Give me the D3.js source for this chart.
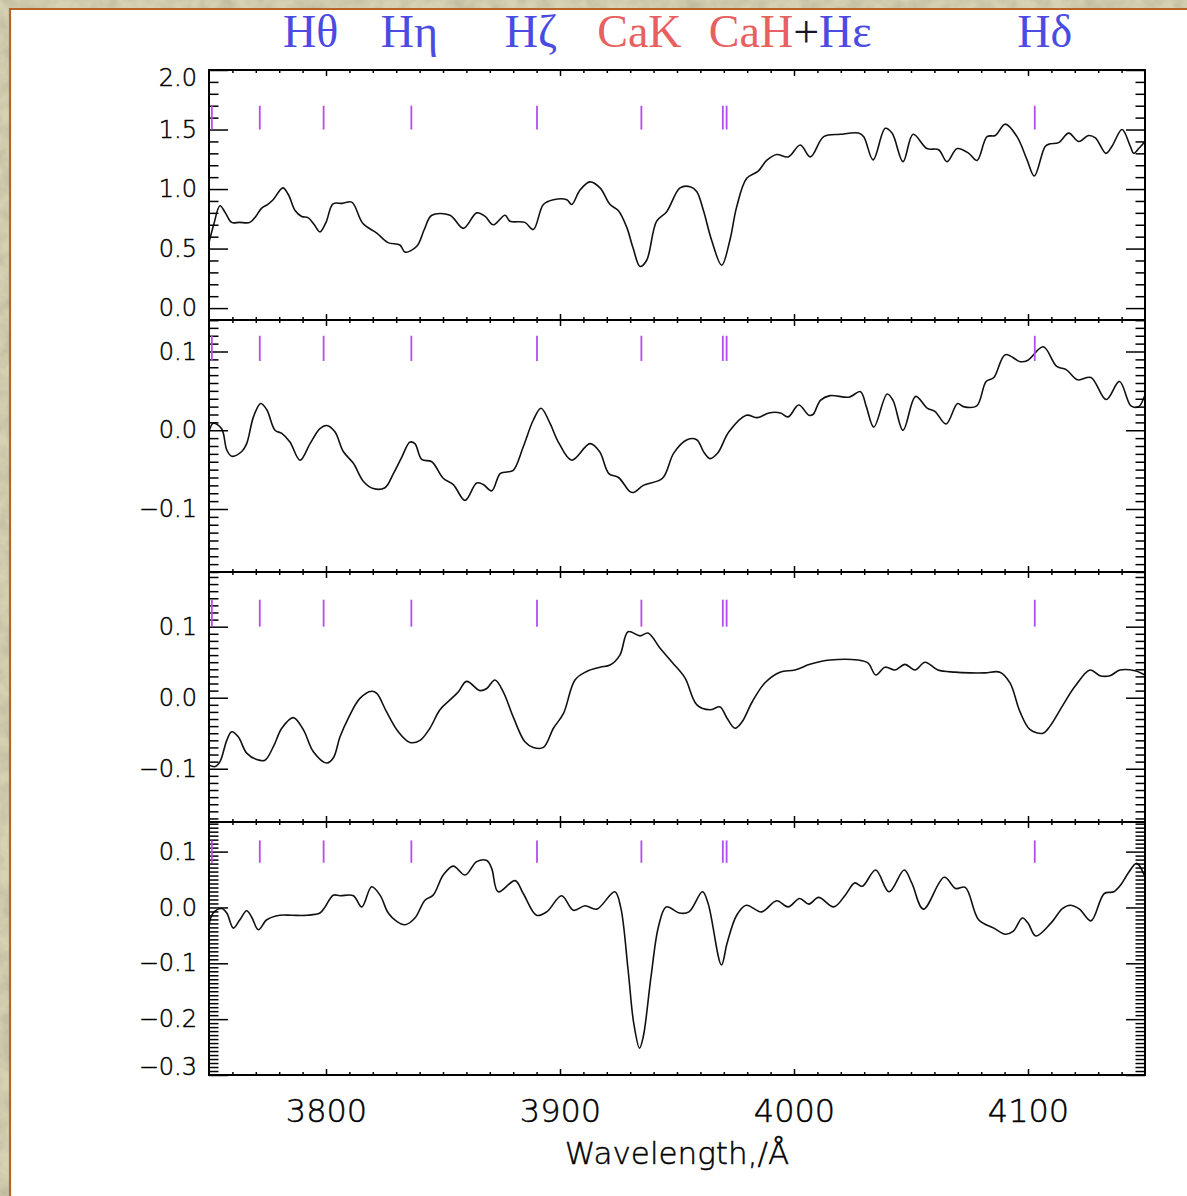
<!DOCTYPE html>
<html>
<head>
<meta charset="utf-8">
<script src="https://cdn.jsdelivr.net/npm/d3@7"></script>
<style>
  html, body { margin: 0; padding: 0; background: #ffffff; }
  svg { display: block; }
</style>
</head>
<body>
<svg id="chart" width="1187" height="1196"></svg>
<script>
// ---------------------------------------------------------------
// Spectra: wavelength (Å) and value for each of the four panels
// ---------------------------------------------------------------
const wave1 = [3750,3752,3754.7,3757,3759.7,3763,3767.5,3770,3772.5,3775,3777.4,3781.6,3784,3786.8,3789.6,3792.3,3795,3797.4,3800,3803,3807,3811,3815.8,3821.7,3826.5,3831.6,3833.8,3838.8,3842,3845.2,3853,3858.7,3864.4,3868,3871.5,3876.5,3878.6,3885,3888.6,3892.9,3897.2,3902.9,3905,3908.5,3912.8,3917.1,3921.4,3924.9,3928.5,3931.3,3934.2,3937,3941.3,3945.6,3951.3,3955.6,3958.4,3961.3,3964.8,3969.1,3972.6,3975.5,3979.8,3984.7,3988.3,3992.6,3997.5,4002.7,4007,4012.7,4019.8,4027.6,4029.8,4033.8,4039,4041.9,4046.6,4050.9,4056.8,4061.8,4065.4,4069.7,4074.7,4078.2,4082.5,4086,4090.3,4095.3,4099.6,4102.7,4107.4,4109.5,4113.1,4117.4,4121.7,4125.9,4128.8,4133.3,4135.9,4140.2,4143.7,4145.2,4147.3,4150];
const flux1 = [0.55,0.70,0.86,0.80,0.72,0.72,0.72,0.77,0.84,0.87,0.91,1.01,0.95,0.82,0.77,0.76,0.70,0.64,0.72,0.875,0.88,0.89,0.71,0.63,0.55,0.53,0.47,0.52,0.66,0.78,0.78,0.67,0.80,0.77,0.70,0.78,0.73,0.72,0.66,0.87,0.91,0.91,0.87,0.99,1.06,1.01,0.87,0.82,0.68,0.50,0.35,0.40,0.73,0.81,1.01,1.02,0.98,0.82,0.57,0.36,0.57,0.85,1.09,1.15,1.24,1.29,1.27,1.37,1.27,1.44,1.46,1.47,1.44,1.245,1.51,1.47,1.23,1.46,1.34,1.33,1.23,1.34,1.30,1.24,1.44,1.45,1.545,1.44,1.245,1.11,1.36,1.38,1.39,1.47,1.40,1.45,1.43,1.30,1.36,1.50,1.36,1.30,1.34,1.40];

const wave2 = [3750,3751.8,3755.4,3757.6,3759.7,3764,3766.1,3769,3772.1,3774.7,3778.2,3781.1,3784.6,3788.9,3793.2,3797.4,3800.3,3803.8,3807.4,3811.7,3816,3820.2,3825.2,3828.8,3832.4,3835.9,3838,3840.9,3845.2,3850.1,3854.4,3859.4,3864.4,3867.2,3870.8,3874.4,3877.2,3880,3884.3,3888.6,3891.9,3895.7,3899.3,3905,3912.8,3916.9,3920.9,3925,3929.9,3931.5,3935.6,3943.8,3948.6,3954.3,3958.4,3961.7,3964.1,3967.4,3972.2,3979.6,3984.4,3989.3,3994.2,3997.5,4002,4006.4,4008.1,4011.3,4015.4,4023.5,4028.4,4030.9,4034.1,4039.8,4042.3,4046.6,4052,4056.9,4060.2,4065,4069.9,4072.4,4078.1,4082.1,4085.4,4090.3,4096.8,4100,4106.5,4112.3,4116.3,4121.2,4126.9,4133.4,4139.1,4144,4147.3,4149.7];
const flux2 = [-0.002,0.009,0.002,-0.025,-0.033,-0.027,-0.017,0.017,0.034,0.026,0.000,-0.004,-0.015,-0.038,-0.017,0.002,0.006,-0.002,-0.027,-0.042,-0.065,-0.074,-0.073,-0.055,-0.034,-0.015,-0.017,-0.037,-0.040,-0.061,-0.069,-0.089,-0.067,-0.069,-0.077,-0.055,-0.053,-0.051,-0.021,0.013,0.028,0.009,-0.015,-0.038,-0.017,-0.027,-0.055,-0.060,-0.078,-0.079,-0.070,-0.061,-0.029,-0.012,-0.012,-0.029,-0.036,-0.029,-0.002,0.019,0.016,0.022,0.022,0.017,0.032,0.019,0.020,0.038,0.044,0.042,0.049,0.030,0.004,0.046,0.038,0.000,0.043,0.028,0.024,0.008,0.034,0.030,0.031,0.062,0.067,0.096,0.087,0.089,0.106,0.081,0.077,0.064,0.067,0.039,0.062,0.031,0.030,0.043];

const wave3 = [3750,3752.6,3754.7,3757.6,3759.7,3762.5,3766.1,3770.4,3773.9,3777.5,3781.1,3786,3790.3,3794.6,3800.3,3803.1,3806,3809.5,3814.5,3819.5,3821.7,3825.9,3830.9,3835.9,3840.2,3844.4,3848.7,3853.7,3856.5,3860.1,3865.8,3868.7,3872.2,3875.8,3880,3885,3888.6,3892.9,3897.2,3901.5,3906.4,3911.4,3917.1,3921.4,3925.6,3929.1,3934.2,3937.6,3942.7,3947.9,3953.4,3958.5,3964.1,3968.4,3971.4,3974.8,3977.8,3982.1,3987.6,3994,4000.4,4006.8,4015.4,4027.4,4031.6,4035,4038.9,4043.2,4047.4,4051.7,4056,4061.5,4068.8,4075.2,4081.6,4088,4092.3,4096.6,4100.9,4106.4,4109.4,4115,4120.1,4126.5,4130.8,4135,4139.3,4145.7,4150];
const flux3 = [-0.095,-0.097,-0.090,-0.060,-0.048,-0.055,-0.078,-0.087,-0.088,-0.069,-0.043,-0.028,-0.045,-0.076,-0.092,-0.085,-0.055,-0.029,-0.001,0.009,0.006,-0.020,-0.048,-0.063,-0.060,-0.043,-0.017,-0.001,0.008,0.023,0.010,0.013,0.025,0.008,-0.027,-0.062,-0.070,-0.070,-0.043,-0.022,0.025,0.037,0.043,0.046,0.060,0.093,0.087,0.091,0.070,0.050,0.028,-0.010,-0.017,-0.013,-0.029,-0.043,-0.034,-0.006,0.021,0.036,0.039,0.047,0.053,0.053,0.049,0.032,0.043,0.039,0.047,0.039,0.050,0.039,0.036,0.035,0.035,0.036,0.021,-0.020,-0.045,-0.050,-0.040,-0.010,0.016,0.039,0.031,0.031,0.039,0.038,0.032];

const wave4 = [3750,3751.8,3755.4,3757.6,3760.4,3763.2,3766.1,3768.2,3771.1,3774.7,3780.3,3785.3,3791.8,3797.4,3799.6,3803.1,3806,3811.7,3815.3,3819.5,3823.1,3826.6,3830.2,3833.8,3838,3842.3,3845.8,3850.1,3854.4,3859.4,3864.4,3868.7,3870.8,3873.6,3880.8,3884.3,3890,3894.3,3900.7,3905.7,3910.7,3915.7,3923.4,3925.9,3929.1,3931.5,3934,3935.6,3938.9,3942.1,3945.4,3951.1,3955.1,3960.9,3963.3,3969,3971.4,3975.5,3979.6,3986.1,3992.6,3997.5,4002.4,4006.4,4010.5,4017,4021.9,4026,4029.2,4034.9,4040.6,4047.1,4050.4,4055.3,4064.2,4069.1,4073.2,4078.9,4085.4,4090.3,4093.6,4097.6,4100,4103.3,4109.8,4114.7,4118,4122,4126.9,4132.6,4136.7,4139.9,4143.2,4146.4,4149.7];
const flux4 = [-0.031,-0.010,-0.002,-0.010,-0.037,-0.022,-0.006,-0.017,-0.040,-0.022,-0.014,-0.014,-0.014,-0.010,0.001,0.022,0.021,0.021,0.001,0.037,0.022,-0.010,-0.025,-0.031,-0.019,0.013,0.022,0.058,0.074,0.058,0.082,0.084,0.070,0.028,0.048,0.025,-0.014,-0.008,0.021,-0.005,0.003,-0.003,0.028,0.001,-0.112,-0.207,-0.252,-0.231,-0.124,-0.034,0.001,-0.010,-0.008,0.028,0.007,-0.103,-0.064,-0.014,0.004,-0.008,0.012,0.001,0.016,0.006,0.018,0.001,0.022,0.044,0.038,0.067,0.028,0.067,0.043,-0.003,0.054,0.034,0.036,-0.022,-0.037,-0.048,-0.043,-0.019,-0.028,-0.051,-0.028,-0.002,0.004,-0.003,-0.024,0.025,0.028,0.042,0.064,0.079,0.058];

// Reference line positions (vacuum, Å): H12, H11, Hθ, Hη, Hζ, Ca K, Ca H, Hε, Hδ
const lineWaves = [3751.22, 3771.70, 3798.98, 3836.47, 3890.17, 3934.78, 3969.59, 3971.20, 4102.89];

// Line labels across the top: coloured text parts, tied to a wavelength
const blue = "#4b4be2", red = "#e8605f", dark = "#15152e";
const topLabels = [
  { wave: 3798.98, parts: [["Hθ", blue]] },
  { wave: 3836.47, parts: [["Hη", blue]] },
  { wave: 3890.17, parts: [["Hζ", blue]] },
  { wave: 3934.78, parts: [["CaK", red]] },
  { wave: 3969.59, parts: [["CaH", red], ["+", dark], ["Hε", blue]] },
  { wave: 4102.89, parts: [["Hδ", blue]] }
];

// Axis extents and ticks
const xDomain = [3750, 4150];
const xMajorTicks = [3800, 3900, 4000, 4100];
const xMinorStep = 10;
const yDomains = [[-0.1, 2.0], [-0.18, 0.14], [-0.175, 0.177], [-0.3, 0.153]];
const yMajorTicks = [[0, 0.5, 1.0, 1.5, 2.0], [-0.1, 0, 0.1], [-0.1, 0, 0.1], [-0.3, -0.2, -0.1, 0, 0.1]];
const yMinorSteps = [0.1, 0.01, 0.01, 0.1 / 14];
const markerSpans = [[1.5, 1.7], [0.088, 0.12], [0.1, 0.138], [0.08, 0.12]];
const xTitle = "Wavelength,/Å";

const spectra = [[wave1, flux1], [wave2, flux2], [wave3, flux3], [wave4, flux4]];

// ---------------------------------------------------------------
// Layout
// ---------------------------------------------------------------
const W = 1187, H = 1196;
const plotLeft = 209, plotRight = 1145;
const panelTops = [70, 320, 572, 822];
const panelBottoms = [320, 572, 822, 1075];
const yTickMajor = 19, yTickMinor = 9.5, xTickMajor = 6, xTickMinor = 3;
const labelDx = [-13, -2, -6, -2, -14, 10];   // horizontal nudges of the top labels (px)
const labelAnchor = ["middle", "middle", "middle", "middle", "start", "middle"];
const tickFont = "'DejaVu Sans', 'Liberation Sans', sans-serif";

const svg = d3.select("#chart");

// parchment surround with an inset white page
const defs = svg.append("defs");
const grain = defs.append("filter").attr("id", "grain").attr("x", 0).attr("y", 0).attr("width", 1).attr("height", 1);
grain.append("feTurbulence").attr("type", "fractalNoise").attr("baseFrequency", 0.06).attr("numOctaves", 3).attr("seed", 7);
grain.append("feColorMatrix").attr("type", "matrix")
  .attr("values", "0 0 0 0 0.42  0 0 0 0 0.40  0 0 0 0 0.28  0 0 0 0.9 -0.25");
svg.append("rect").attr("width", W).attr("height", H).attr("fill", "#d8d2b4");
svg.append("rect").attr("width", W).attr("height", H).attr("filter", "url(#grain)");
svg.append("rect").attr("x", 10).attr("y", 9).attr("width", W - 10).attr("height", H - 9).attr("fill", "#ffffff");
svg.append("path").attr("d", `M10,${H} L10,9 L${W},9`).attr("fill", "none")
  .attr("stroke", "#b7652b").attr("stroke-width", 2.2);

const x = d3.scaleLinear().domain(xDomain).range([plotLeft, plotRight]);
const xMinor = d3.range(xDomain[0] + xMinorStep, xDomain[1], xMinorStep)
  .filter(v => !xMajorTicks.some(m => Math.abs(m - v) < 1e-6));

function minorValues(domain, step, majors) {
  const lo = Math.ceil(domain[0] / step - 1e-9), hi = Math.floor(domain[1] / step + 1e-9);
  return d3.range(lo, hi + 1).map(i => i * step)
    .filter(v => !majors.some(m => Math.abs(m - v) < step * 0.3));
}

const fmt = d3.format(".1f");
const styleText = sel => sel.attr("font-family", tickFont).attr("font-weight", 200)
  .attr("fill", "#000").attr("stroke", "#000").attr("stroke-width", 0.45);

spectra.forEach(([wave, flux], p) => {
  const top = panelTops[p], bottom = panelBottoms[p];
  const y = d3.scaleLinear().domain(yDomains[p]).range([bottom, top]);
  const g = svg.append("g");

  // clip for the trace
  defs.append("clipPath").attr("id", "clip" + p)
    .append("rect").attr("x", plotLeft).attr("y", top).attr("width", plotRight - plotLeft).attr("height", bottom - top);

  // spectrum trace
  const pts = wave.map((w, i) => [w, flux[i]]);
  g.append("path").datum(pts)
    .attr("clip-path", `url(#clip${p})`)
    .attr("fill", "none").attr("stroke", "#111").attr("stroke-width", 1.6)
    .attr("stroke-linejoin", "round")
    .attr("d", d3.line().x(d => x(d[0])).y(d => y(d[1])).curve(d3.curveCatmullRom.alpha(0.5)));

  const styleAxis = sel => {
    sel.select(".domain").remove();
    sel.selectAll(".tick line").attr("stroke", "#000").attr("stroke-width", 1.5);
  };

  // left axis: major ticks with labels, minor ticks
  const yMin = minorValues(yDomains[p], yMinorSteps[p], yMajorTicks[p]);
  const leftMajor = g.append("g").attr("transform", `translate(${plotLeft},0)`)
    .call(d3.axisLeft(y).tickValues(yMajorTicks[p]).tickSize(-yTickMajor).tickPadding(12).tickFormat(fmt))
    .call(styleAxis);
  leftMajor.selectAll("text").call(styleText).attr("font-size", 24)
    .attr("y", d => {
      const py = y(d);
      if (py - top < 8) return top + 8 - py;
      if (bottom - py < 8) return bottom - 8 - py;
      return 0;
    });
  g.append("g").attr("transform", `translate(${plotLeft},0)`)
    .call(d3.axisLeft(y).tickValues(yMin).tickSize(-yTickMinor).tickFormat(""))
    .call(styleAxis);

  // right axis
  g.append("g").attr("transform", `translate(${plotRight},0)`)
    .call(d3.axisRight(y).tickValues(yMajorTicks[p]).tickSize(-yTickMajor).tickFormat(""))
    .call(styleAxis);
  g.append("g").attr("transform", `translate(${plotRight},0)`)
    .call(d3.axisRight(y).tickValues(yMin).tickSize(-yTickMinor).tickFormat(""))
    .call(styleAxis);

  // top and bottom axes (ticks pointing inward)
  g.append("g").attr("transform", `translate(0,${top})`)
    .call(d3.axisTop(x).tickValues(xMajorTicks).tickSize(-xTickMajor).tickFormat(""))
    .call(styleAxis);
  g.append("g").attr("transform", `translate(0,${top})`)
    .call(d3.axisTop(x).tickValues(xMinor).tickSize(-xTickMinor).tickFormat(""))
    .call(styleAxis);
  const bottomAxis = g.append("g").attr("transform", `translate(0,${bottom})`)
    .call(d3.axisBottom(x).tickValues(xMajorTicks).tickSize(-xTickMajor).tickPadding(24)
      .tickFormat(p === spectra.length - 1 ? d3.format("d") : ""))
    .call(styleAxis);
  bottomAxis.selectAll("text").call(styleText).attr("font-size", 32);
  g.append("g").attr("transform", `translate(0,${bottom})`)
    .call(d3.axisBottom(x).tickValues(xMinor).tickSize(-xTickMinor).tickFormat(""))
    .call(styleAxis);

  // panel frame
  g.append("rect").attr("x", plotLeft).attr("y", top)
    .attr("width", plotRight - plotLeft).attr("height", bottom - top)
    .attr("fill", "none").attr("stroke", "#000").attr("stroke-width", 2);

  // line markers, drawn over the frame
  const [m0, m1] = markerSpans[p];
  g.append("g").selectAll("line").data(lineWaves).join("line")
    .attr("x1", d => x(d)).attr("x2", d => x(d))
    .attr("y1", y(m0)).attr("y2", y(m1))
    .attr("stroke", "#b44cf0").attr("stroke-width", 1.8);
});

// x-axis title
svg.append("text")
  .attr("x", 677).attr("y", 1164)
  .attr("text-anchor", "middle")
  .attr("font-size", 31)
  .call(styleText)
  .text(xTitle);

// line identifications along the top
const labelG = svg.append("g")
  .attr("font-family", "'Liberation Serif', 'Times New Roman', serif")
  .attr("font-size", 46);
topLabels.forEach((lab, i) => {
  const t = labelG.append("text")
    .attr("x", x(lab.wave) + labelDx[i]).attr("y", 47)
    .attr("text-anchor", labelAnchor[i]);
  lab.parts.forEach(([s, c]) => t.append("tspan").attr("fill", c).text(s));
});
</script>
</body>
</html>
